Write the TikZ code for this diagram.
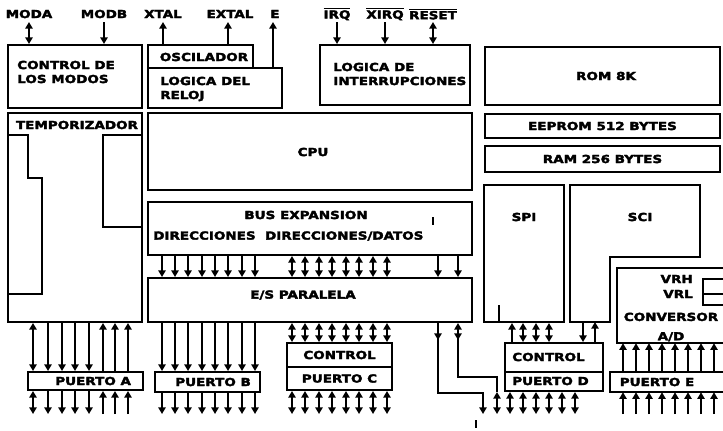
\documentclass[tikz,border=0pt]{standalone}
\usepackage{amsmath}
\usepackage{fontspec}
\setmainfont{DejaVu Sans}[FakeStretch=1.22, BoldFeatures={FakeBold=3}]
\usetikzlibrary{arrows.meta, fit, positioning}
\tikzset{
    blk/.style={rectangle, draw=black, line width=1.5pt, inner sep=0pt},
    txt/.style={inner sep=0pt, align=left, font=\bfseries\fontsize{8.3}{10.5}\selectfont},
    wire/.style={line width=1.2pt},
    sig/.style={line width=1.2pt, >={Triangle[length=5pt,width=5.5pt]}},
    sigdn/.style={sig,->},
    sigbi/.style={sig,<->}
}

\begin{document}
\begin{tikzpicture}[x=0.75pt, y=-0.75pt]
    \useasboundingbox (0,0) rectangle (723,430);
    \coordinate (pintop) at (0,22);
    \coordinate (pinbot) at (0,414);

    % upper blocks
    \node (modos) [blk, fit={(8,45) (142,108)}] {};
    \node (modostxt) [txt, anchor=west] at (17,72) {CONTROL DE\\LOS MODOS};
    \node (osc) [blk, fit={(148,45) (253,68)}] {};
    \node (osctxt) [txt] at (204,57) {OSCILADOR};
    \node (reloj) [blk, fit={(148,68) (282,108)}] {};
    \node (relojtxt) [txt, anchor=west] at (160,89) {LOGICA DEL\\RELOJ};
    \node (intr) [blk, fit={(320,45) (470,105)}] {};
    \node (intrtxt) [txt, anchor=west] at (333,74) {LOGICA DE\\INTERRUPCIONES};
    \node (rom) [blk, fit={(485,47) (720,105)}] {};
    \node (romtxt) [txt] at (606,76) {ROM 8K};
    \node (eeprom) [blk, fit={(485,114) (720,138)}] {};
    \node (eepromtxt) [txt] at (eeprom.center) {EEPROM 512 BYTES};
    \node (ram) [blk, fit={(485,146) (720,172)}] {};
    \node (ramtxt) [txt] at (ram.center) {RAM 256 BYTES};

    % pins on top
    \node (moda) [txt] at (29,14) {MODA};
    \node (modb) [txt] at (104,14) {MODB};
    \node (xtal) [txt] at (163,14) {XTAL};
    \node (extal) [txt] at (230,14) {EXTAL};
    \node (eclk) [txt] at (275,14) {E};
    \node (irq) [txt] at (337,14) {$\overline{\text{IRQ}}$};
    \node (xirq) [txt] at (385,14) {$\overline{\text{XIRQ}}$};
    \node (reset) [txt] at (433,14) {$\overline{\text{RESET}}$};
    \draw [sigbi] (moda.south |- pintop) -- (moda.south |- modos.north);
    \draw [sigdn] (modb.south |- pintop) -- (modb.south |- modos.north);
    \draw [sigdn] (xtal.south |- osc.north) -- (xtal.south |- pintop);
    \draw [sigdn] (228,0 |- osc.north) -- (228,0 |- pintop);
    \draw [sigdn] (273,0 |- reloj.north) -- (273,0 |- pintop);
    \draw [sigdn] (irq.south |- pintop) -- (irq.south |- intr.north);
    \draw [sigdn] (xirq.south |- pintop) -- (xirq.south |- intr.north);
    \draw [sigbi] (reset.south |- pintop) -- (reset.south |- intr.north);

    % middle blocks
    \node (temp) [blk, fit={(8,113) (142,322)}] {};
    \node (temptxt) [txt] at (77,125) {TEMPORIZADOR};
    \draw [wire] (8,135) -- (28,135) -- (28,178) -- (42,178) -- (42,294) -- (8,294);
    \draw [wire] (142,135) -- (103,135) -- (103,227) -- (142,227);
    \node (cpu) [blk, fit={(148,113) (472,190)}] {};
    \node (cputxt) [txt] at (313,152) {CPU};
    \node (bus) [blk, fit={(148,202) (472,255)}] {};
    \node (bustxt) [txt] at (306,215) {BUS EXPANSION};
    \node (dirtxt) [txt, anchor=west] at (153,236) {DIRECCIONES\ \ DIRECCIONES/DATOS};
    \draw [line width=0.8pt] (433,217) -- (433,225);
    \node (esp) [blk, fit={(148,278) (472,322)}] {};
    \node (esptxt) [txt, anchor=west] at (250,295) {E/S PARALELA};

    \node (spi) [blk, fit={(484,185) (564,322)}] {};
    \node (spitxt) [txt] at (524,217) {SPI};
    \draw [wire] (499,305) -- (499,322);
    \draw [blk] (570,185) -- (700,185) -- (700,257) -- (610,257) -- (610,322) -- (570,322) -- cycle;
    \node (scitxt) [txt] at (640,217) {SCI};
    \coordinate (scibot) at (590,322);

    \node (conv) [inner sep=0pt, fit={(617,268) (723,343)}] {};
    \draw [blk] (723,268) -- (617,268) -- (617,343) -- (723,343);
    \node (vrh) [txt, anchor=east] at (693,279) {VRH};
    \node (vrl) [txt, anchor=east] at (693,294) {VRL};
    \draw [wire] (723,279) -- (703,279) -- (703,305) -- (723,305);
    \draw [wire] (703,294) -- (723,294);
    \node (convtxt) [txt, align=center] at (671,327) {CONVERSOR\\[4pt]A/D};

    % ports
    \node (pa) [blk, fit={(28,372) (143,390)}] {};
    \node (patxt) [txt, anchor=west] at (55,381) {PUERTO A};
    \node (pb) [blk, fit={(155,372) (260,392)}] {};
    \node (pbtxt) [txt, anchor=west] at (175,382) {PUERTO B};
    \node (ctlc) [blk, fit={(287,343) (392,367)}] {};
    \node (ctlctxt) [txt] at (ctlc.center) {CONTROL};
    \node (pc) [blk, fit={(287,367) (392,390)}] {};
    \node (pctxt) [txt] at (pc.center) {PUERTO C};
    \node (ctld) [blk, fit={(505,343) (603,372)}] {};
    \node (ctldtxt) [txt, anchor=west] at (512,357) {CONTROL};
    \node (pd) [blk, fit={(505,372) (603,391)}] {};
    \node (pdtxt) [txt, anchor=west] at (512,381) {PUERTO D};
    \node (pe) [inner sep=0pt, fit={(610,372) (723,392)}] {};
    \draw [blk] (723,372) -- (610,372) -- (610,392) -- (723,392);
    \node (petxt) [txt] at (657,382) {PUERTO E};

    % bus to E/S
    \foreach \x in {162,175,188,202,215,228,242,255,438,458}
        \draw [sigdn] (\x,0 |- bus.south) -- (\x,0 |- esp.north);
    \foreach \x in {292,305,319,332,346,359,373,387}
        \draw [sigbi] (\x,0 |- bus.south) -- (\x,0 |- esp.north);

    % port A
    \draw [sigbi] (33,0 |- temp.south) -- (33,0 |- pa.north);
    \draw [sigbi] (33,0 |- pa.south) -- (33,0 |- pinbot);
    \foreach \x in {48,62,75,89} {
        \draw [sigdn] (\x,0 |- temp.south) -- (\x,0 |- pa.north);
        \draw [sigdn] (\x,0 |- pa.south) -- (\x,0 |- pinbot);
    }
    \foreach \x in {103,115,128} {
        \draw [sigdn] (\x,0 |- pa.north) -- (\x,0 |- temp.south);
        \draw [sigdn] (\x,0 |- pinbot) -- (\x,0 |- pa.south);
    }

    % port B
    \foreach \x in {162,175,188,202,215,228,242,255} {
        \draw [sigdn] (\x,0 |- esp.south) -- (\x,0 |- pb.north);
        \draw [sigdn] (\x,0 |- pb.south) -- (\x,0 |- pinbot);
    }

    % port C
    \foreach \x in {292,305,319,332,346,359,373,387} {
        \draw [sigbi] (\x,0 |- esp.south) -- (\x,0 |- ctlc.north);
        \draw [sigbi] (\x,0 |- pc.south) -- (\x,0 |- pinbot);
    }

    % lines from E/S to port D pins
    \draw [sigdn] (438,0 |- esp.south) -- (438,340);
    \draw [sigdn] (438,338) -- (438,393) -- (483,393) -- (483,0 |- pinbot);
    \draw [sigbi] (458,0 |- esp.south) -- (458,340);
    \draw [sig] (458,338) -- (458,377) -- (497,377) -- (497,392);
    \draw [sigbi] (497,392) -- (497,0 |- pinbot);

    % port D
    \draw [sigdn] (512,0 |- ctld.north) -- (512,0 |- spi.south);
    \foreach \x in {523,536,549}
        \draw [sigbi] (\x,0 |- spi.south) -- (\x,0 |- ctld.north);
    \draw [sigdn] (583,0 |- scibot) -- (583,0 |- ctld.north);
    \draw [sigdn] (595,0 |- ctld.north) -- (595,0 |- scibot);
    \foreach \x in {510,523,536,549,562,575}
        \draw [sigbi] (\x,0 |- pd.south) -- (\x,0 |- pinbot);

    % port E
    \foreach \x in {623,636,649,662,675,688,701,714} {
        \draw [sigdn] (\x,0 |- pe.north) -- (\x,0 |- conv.south);
        \draw [sigdn] (\x,0 |- pinbot) -- (\x,0 |- pe.south);
    }

    \draw [line width=0.8pt] (476,420) -- (476,428);
\end{tikzpicture}
\end{document}
